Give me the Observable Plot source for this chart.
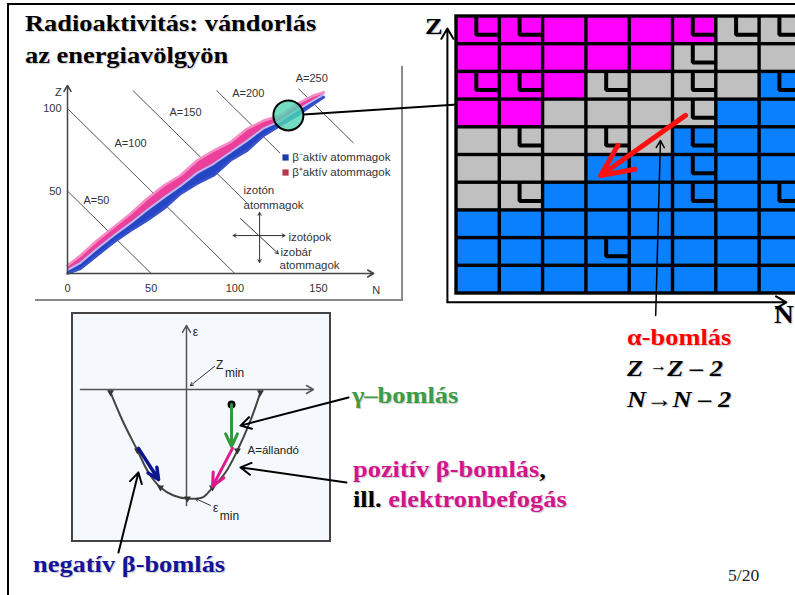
<!DOCTYPE html>
<html><head><meta charset="utf-8">
<script src="https://cdn.jsdelivr.net/npm/d3@7"></script>
<script src="https://cdn.jsdelivr.net/npm/@observablehq/plot@0.6"></script>
<style>
html,body{margin:0;padding:0;background:#fff;}
#slide{position:relative;width:795px;height:595px;overflow:hidden;background:#fff;}
.t{position:absolute;font-family:"Liberation Serif","Times New Roman",serif;font-weight:bold;white-space:nowrap;line-height:1;text-shadow:1px 1px 1px rgba(0,0,0,0.22);transform-origin:0 0;transform:scaleX(1.1);}
.plot{position:absolute;}
</style></head><body><div id="slide"></div>
<script>
// ---------- Panel 1: chart of nuclides (N–Z) ----------
const bandN     = [0, 7.8, 17.7, 27.7, 37.7, 47.6, 57.6, 67.5, 77.5, 87.4, 97.4, 107.4, 117.3, 127.3, 137.3, 147.2, 153.2];
const bandZHigh = [4.8, 10.9, 20, 28.1, 36.2, 45.3, 53.3, 59.4, 68.5, 74.5, 79.6, 87.7, 92.7, 95.8, 102.8, 107.9, 109.9];
const bandZMid  = [2, 6.5, 15, 23, 30.5, 38.5, 46, 53, 61, 66.5, 73.5, 80.5, 88, 92.5, 99, 105, 108.5];
const bandZLow  = [0, 2.8, 10.9, 19, 26, 32.1, 39.2, 48.3, 54.4, 59.4, 68.5, 74.5, 83.6, 89.7, 95.8, 102.8, 106.9];
const isobarA      = [50, 100, 150, 200, 250];
const isobarNStart = [0, 0, 39, 89, 138];
const isobarNEnd   = [50, 100, 107, 127, 171];
const isobarLabelN = [17.3, 37.7, 70.5, 108, 146];
const isobarLabelZ = [44, 78.8, 97.6, 109, 118];
const nTicks = [0, 50, 100, 150];
const zTicks = [50, 100];
const axisNMax = 183, axisZMax = 114;
const legendLabels = ["β\u207Baktív atommagok", "β\u207Aaktív atommagok"];
const legendColors = ["#1f3aa8", "#b03848"];
const legendN = 130.3, legendZ = [70.3, 61.2];
const highlight = {N: 132, Z: 95.8};
const connector = {N1: 141, Z1: 96.4, N2: 233, Z2: 102.4};
const crossCenter = {N: 114.8, Z: 23};
const crossEnds = [{N: 114.8, Z: 37}, {N: 114.8, Z: 6.7}, {N: 99, Z: 23}, {N: 130, Z: 23}];
const crossDiag = {N1: 103.4, Z1: 33.3, N2: 126, Z2: 12};
const notes1 = [
  {N: 105.2, Z: 50.3, text: "izotón"}, {N: 105.2, Z: 41.2, text: "atommagok"},
  {N: 132, Z: 21.8, text: "izotópok"},
  {N: 127.3, Z: 12.7, text: "izobár"}, {N: 126.7, Z: 4.8, text: "atommagok"}
];

// ---------- Panel 2: N–Z grid ----------
const gridRows = ["MMMMMMGG","MMMMMGGG","MMMGGGGB","MMGGGGBB","GGGGGBBB","GGGBBBBB","GGBBBBBB","BBBBBBBB","BBBBBBBB","BBBBBBBB"];
const gridMarks = ["LL...LLL",".....L..","LL.L.L.L",".....L..",".L.L.L..",".....L..",".L...L.L","........","...L....","........"];
const cellColors = {M: "#ff00ff", G: "#c0c0c0", B: "#0a80ff"};
const alphaArrow = {x1: 5.29, y1: 3.57, x2: 3.33, y2: 5.74};
const alphaPointer = {x1: 4.60, y1: 10.79, x2: 4.71, y2: 4.48};
const gridAxes = [{x1: -0.21, y1: 10.32, x2: -0.21, y2: 0.43}, {x1: -0.21, y1: 10.32, x2: 7.62, y2: 10.32}];

// ---------- Panel 3: energy valley (parabola) ----------
const valleyX = [-4.0, -3.37, -2.58, -2.0, -1.37, -0.68, 0.05, 0.84, 1.37, 2.05, 2.68, 3.37, 3.89];
const valleyE = [-0.15, -1.63, -3.21, -4.37, -5.16, -5.58, -5.74, -5.68, -5.16, -4.37, -3.21, -1.63, -0.15];
const markerX = [-4.0, -2.58, -1.37, 0.05, 1.37, 2.68, 3.89];
const markerE = [-0.15, -3.21, -5.16, -5.74, -5.16, -3.21, -0.15];
const valleyAxes = [{x1: 0, y1: -6.1, x2: 0, y2: 3.37}, {x1: -5.58, y1: 0, x2: 6.68, y2: 0}];
const gammaArrow = {x1: 2.37, y1: -0.79, x2: 2.37, y2: -3.0};
const betaPlusArrow = {x1: 2.42, y1: -3.1, x2: 1.37, y2: -5.1};
const betaMinusArrow = {x1: -2.53, y1: -3.1, x2: -1.47, y2: -4.74};
const pointers3 = [
  {x1: 1.47, y1: 1.21, x2: 0.2, y2: 0.2},
  {x1: 1.26, y1: -6.1, x2: 0.47, y2: -5.74}
];
const calloutArrows = [
  {x1: 8.53, y1: -0.42, x2: 2.84, y2: -1.9},
  {x1: 8.42, y1: -4.89, x2: 2.84, y2: -4.1},
  {x1: -3.58, y1: -8.58, x2: -2.53, y2: -4.37}
];
const notes3 = [
  {x: 0.47, y: 3.0, text: "ε"},
  {x: 1.74, y: 1.26, text: "Z"},
  {x: 2.53, y: 0.84, text: "min"},
  {x: 1.53, y: -6.26, text: "ε"},
  {x: 2.26, y: -6.68, text: "min"}
];
const constLabel = {x: 3.21, y: -3.21, text: "A=állandó"};

// ---------- Slide texts ----------
const slideTexts = [
  {html: "Radioaktivitás: vándorlás", x: 25, base: 31, size: 24, color: "#000"},
  {html: "az energiavölgyön", x: 25, base: 63, size: 24, color: "#000"},
  {html: "Z", x: 425, base: 34, size: 24, color: "#000"},
  {html: "N", x: 774, base: 323, size: 25, color: "#000"},
  {html: "α-bomlás", x: 627, base: 345, size: 24, color: "#ff0000"},
  {html: "<i>Z</i> <span style='font-size:16px;vertical-align:5px'>→</span><i>Z – 2</i>", x: 627, base: 376, size: 24, color: "#000"},
  {html: "<i>N</i>→<i>N – 2</i>", x: 627, base: 407, size: 24, color: "#000"},
  {html: "γ–bomlás", x: 352, base: 403, size: 24, color: "#3a9d45"},
  {html: "<span style='color:#d4148f'>pozitív β-bomlás</span>,", x: 353, base: 477, size: 24, color: "#000"},
  {html: "ill. <span style='color:#d4148f'>elektronbefogás</span>", x: 353, base: 507, size: 24, color: "#000"},
  {html: "negatív β-bomlás", x: 33, base: 572, size: 24, color: "#14149a"},
  {html: "5/20", x: 728, base: 581, size: 16, color: "#222", normal: true}
];

const slide = document.getElementById("slide");
function place(el, left, top) {
  el.classList.add("plot");
  el.style.left = left + "px"; el.style.top = top + "px";
  el.style.maxWidth = "none"; el.style.overflow = "visible"; el.style.background = "transparent";
  slide.appendChild(el);
}
const frame = document.createElement("div");
Object.assign(frame.style, {position: "absolute", left: "7px", top: "3px", width: "820px", height: "620px", borderLeft: "2px solid #000", borderTop: "2px solid #000"});
slide.appendChild(frame);
const f1 = document.createElement("div");
Object.assign(f1.style, {position: "absolute", left: "35px", top: "66px", width: "366px", height: "233px", borderRight: "2px solid #8a8a8a", borderBottom: "2px solid #8a8a8a"});
slide.appendChild(f1);
const f3 = document.createElement("div");
Object.assign(f3.style, {position: "absolute", left: "71px", top: "312px", width: "260px", height: "230px", boxSizing: "border-box", border: "2px solid #444", background: "#f5f9fd"});
slide.appendChild(f3);

// ---- Plot 1
const band = bandN.map((n, i) => ({N: n, low: bandZLow[i], mid: bandZMid[i], high: bandZHigh[i]}));
const isobars = isobarA.map((a, i) => ({A: a, N1: isobarNStart[i], Z1: a - isobarNStart[i], N2: isobarNEnd[i], Z2: a - isobarNEnd[i], lN: isobarLabelN[i], lZ: isobarLabelZ[i]}));
const legend = legendLabels.map((l, i) => ({label: l, color: legendColors[i], Z: legendZ[i]}));
const sans = "Liberation Sans, Arial, sans-serif";
const p1 = Plot.plot({
  width: 368, height: 240, margin: 0,
  x: {domain: [0, 150], range: [32, 283], axis: null},
  y: {domain: [0, 100], range: [211, 46], axis: null},
  style: {background: "transparent", overflow: "visible"},
  marks: [
    Plot.link(isobars, {x1: "N1", y1: "Z1", x2: "N2", y2: "Z2", stroke: "#555", strokeWidth: 1}),
    Plot.areaY(band, {x: "N", y1: "mid", y2: "high", fill: "#ec3f9c", curve: "linear"}),
    Plot.areaY(band, {x: "N", y1: "low", y2: "mid", fill: "#2446c4", curve: "linear"}),
    Plot.line(band, {x: "N", y: "high", stroke: "#f58cc4", strokeWidth: 2.5}),
    Plot.line(band, {x: "N", y: "low", stroke: "#3550c8", strokeWidth: 2.5}),
    Plot.line(band, {x: "N", y: "mid", stroke: "#c4b4ec", strokeWidth: 2}),
    Plot.arrow([{x1: 0, y1: 0, x2: axisNMax, y2: 0}, {x1: 0, y1: 0, x2: 0, y2: axisZMax}], {x1: "x1", y1: "y1", x2: "x2", y2: "y2", stroke: "#444", strokeWidth: 1.5, headLength: 7}),
    Plot.text(nTicks, {x: d => d, y: 0, dy: 15, text: d => String(d), fontFamily: sans, fontSize: 11, fill: "#333"}),
    Plot.text(zTicks, {x: 0, y: d => d, dx: -6, text: d => String(d), textAnchor: "end", fontFamily: sans, fontSize: 11, fill: "#333"}),
    Plot.text(["Z"], {x: -5.4, y: 109.7, text: d => d, fontFamily: sans, fontSize: 11, fill: "#333"}),
    Plot.text(["N"], {x: 184.5, y: -10.3, text: d => d, fontFamily: sans, fontSize: 11, fill: "#333"}),
    Plot.text(isobars, {x: "lN", y: "lZ", text: d => "A=" + d.A, fontFamily: sans, fontSize: 11, fill: "#333"}),
    Plot.dot(legend, {x: legendN, y: "Z", symbol: "square", r: 3.5, fill: "color"}),
    Plot.text(legend, {x: legendN + 4, y: "Z", text: "label", textAnchor: "start", fontFamily: sans, fontSize: 11.5, fill: "#333"}),
    Plot.text(notes1, {x: "N", y: "Z", text: "text", textAnchor: "start", fontFamily: sans, fontSize: 11.5, fill: "#333"}),
    Plot.arrow(crossEnds, {x1: crossCenter.N, y1: crossCenter.Z, x2: "N", y2: "Z", stroke: "#333", strokeWidth: 1, headLength: 5}),
    Plot.arrow([crossDiag], {x1: "N1", y1: "Z1", x2: "N2", y2: "Z2", stroke: "#333", strokeWidth: 1, headLength: 5}),
    Plot.link([connector], {x1: "N1", y1: "Z1", x2: "N2", y2: "Z2", stroke: "#000", strokeWidth: 2}),
    Plot.dot([highlight], {x: "N", y: "Z", r: 15, fill: "#4fd4b4", fillOpacity: 0.8, stroke: "#000", strokeWidth: 2})
  ]
});
place(p1, 35, 62);

// ---- Plot 2
const cells = [], lmarks = [];
gridRows.forEach((row, r) => [...row].forEach((c, col) => {
  cells.push({col, row: r, fill: cellColors[c]});
  if (gridMarks[r][col] === "L") {
    const id = r + "-" + col;
    lmarks.push({id, x: col + 0.457, y: r}, {id, x: col + 0.457, y: r + 0.657}, {id, x: col + 1, y: r + 0.657});
  }
}));
const p2 = Plot.plot({
  width: 355, height: 330, margin: 0,
  x: {domain: [0, 8], range: [16, 362.4], axis: null},
  y: {domain: [0, 10], range: [16, 293], axis: null},
  style: {background: "transparent", overflow: "visible"},
  marks: [
    Plot.rect([{x1: 0, x2: 8, y1: 0, y2: 10}], {x1: "x1", x2: "x2", y1: "y1", y2: "y2", fill: "#000", inset: -1.7}),
    Plot.rect(cells, {x1: "col", x2: d => d.col + 1, y1: "row", y2: d => d.row + 1, fill: "fill", inset: 1.7}),
    Plot.line(lmarks, {x: "x", y: "y", z: "id", stroke: "#000", strokeWidth: 4, strokeLinejoin: "miter", strokeLinecap: "butt"}),
    Plot.arrow(gridAxes, {x1: "x1", y1: "y1", x2: "x2", y2: "y2", stroke: "#000", strokeWidth: 2, headLength: 9}),
    Plot.arrow([alphaPointer], {x1: "x1", y1: "y1", x2: "x2", y2: "y2", stroke: "#000", strokeWidth: 1.5, headLength: 8}),
    Plot.arrow([alphaArrow], {x1: "x1", y1: "y1", x2: "x2", y2: "y2", stroke: "#ff1010", strokeWidth: 5, headLength: 20, headAngle: 50})
  ]
});
place(p2, 440, 0);

// ---- Plot 3
const valley = valleyX.map((x, i) => ({x, e: valleyE[i]}));
const markers = markerX.map((x, i) => ({x, e: markerE[i]}));
const p3 = Plot.plot({
  width: 258, height: 228, margin: 0,
  x: {domain: [-6, 6], range: [0, 228], axis: null},
  y: {domain: [-8, 4], range: [228, 0], axis: null},
  style: {background: "transparent", overflow: "visible"},
  marks: [
    Plot.arrow(valleyAxes, {x1: "x1", y1: "y1", x2: "x2", y2: "y2", stroke: "#555", strokeWidth: 1.5, headLength: 8}),
    Plot.line(valley, {x: "x", y: "e", curve: "catmull-rom", stroke: "#444", strokeWidth: 2}),
    Plot.dot(markers, {x: "x", y: "e", symbol: "triangle", r: 2.6, fill: "#333", rotate: 180}),
    Plot.arrow(pointers3, {x1: "x1", y1: "y1", x2: "x2", y2: "y2", stroke: "#333", strokeWidth: 1, headLength: 5}),
    Plot.dot([gammaArrow], {x: "x1", y: "y1", r: 4, fill: "#000"}),
    Plot.arrow([gammaArrow], {x1: "x1", y1: "y1", x2: "x2", y2: "y2", stroke: "#2f9a3c", strokeWidth: 3, headLength: 9, headAngle: 50}),
    Plot.arrow([betaPlusArrow], {x1: "x1", y1: "y1", x2: "x2", y2: "y2", stroke: "#e0188f", strokeWidth: 3, headLength: 9, headAngle: 50}),
    Plot.arrow([betaMinusArrow], {x1: "x1", y1: "y1", x2: "x2", y2: "y2", stroke: "#0a1590", strokeWidth: 3.5, headLength: 9, headAngle: 50}),
    Plot.text(notes3, {x: "x", y: "y", text: "text", fontSize: 12, fontFamily: sans, fill: "#222"}),
    Plot.text([constLabel], {x: "x", y: "y", text: "text", fontSize: 11.5, textAnchor: "start", fontFamily: sans, fill: "#222"}),
    Plot.arrow(calloutArrows, {x1: "x1", y1: "y1", x2: "x2", y2: "y2", stroke: "#000", strokeWidth: 2, headLength: 9})
  ]
});
place(p3, 72, 313);

// ---- slide texts
slideTexts.forEach(t => {
  const d = document.createElement("div");
  d.className = "t";
  d.innerHTML = t.html;
  d.style.left = t.x + "px";
  d.style.top = (t.base - 0.8375 * t.size) + "px";
  d.style.fontSize = t.size + "px";
  d.style.color = t.color;
  if (t.normal) { d.style.fontWeight = "normal"; d.style.textShadow = "none"; }
  slide.appendChild(d);
});
</script></body></html>
